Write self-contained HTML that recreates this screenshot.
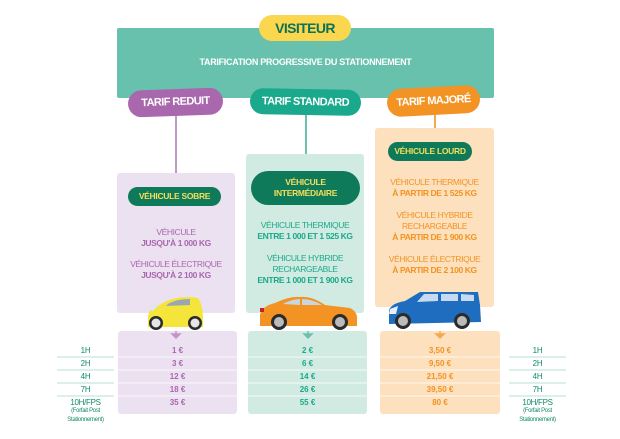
<!DOCTYPE html>
<html><head><meta charset="utf-8"><style>
*{margin:0;padding:0;box-sizing:border-box}
body{width:620px;height:439px;background:#fff;position:relative;overflow:hidden;font-family:"Liberation Sans Narrow","Liberation Sans",sans-serif;font-weight:bold}
.a{position:absolute}
.c{text-align:center}
.pill{position:absolute;border-radius:14px;color:#fff;text-align:center;font-weight:bold;letter-spacing:-0.6px;white-space:nowrap}
.t{position:absolute;text-align:center;font-size:8.5px;line-height:11px;letter-spacing:-0.4px;white-space:nowrap}
.row{position:absolute;left:0;width:100%;text-align:center;font-size:8px;height:13px;line-height:13px}
.lbl{position:absolute;width:57px;text-align:center;font-size:8px;color:#138a6a;font-weight:normal;letter-spacing:-0.3px}
</style></head><body>
<div class="a" style="left:117px;top:28px;width:377px;height:70px;background:#67c1ad;border-radius:2px"></div>
<div class="a c" style="left:117px;top:57px;width:377px;color:#fff;font-size:9px;letter-spacing:-0.3px">TARIFICATION PROGRESSIVE DU STATIONNEMENT</div>
<div class="pill" style="left:259px;top:15px;width:92px;height:26px;background:#fad74f;color:#0e7256;font-size:14px;line-height:26px">VISITEUR</div>

<div class="a" style="left:175px;top:112px;width:2px;height:62px;background:#c495c8"></div>
<div class="a" style="left:305px;top:112px;width:2px;height:43px;background:#6cc0ae"></div>
<div class="a" style="left:434px;top:112px;width:2px;height:17px;background:#f6a94d"></div>

<div class="pill" style="left:128px;top:89px;width:95px;height:27px;background:#a968ad;font-size:11px;line-height:27px;transform:rotate(-2deg)">TARIF REDUIT</div>
<div class="pill" style="left:250px;top:89px;width:111px;height:26px;background:#1aa98c;font-size:11px;line-height:26px;transform:rotate(1deg)">TARIF STANDARD</div>
<div class="pill" style="left:387px;top:87px;width:93px;height:28px;background:#f29323;font-size:11px;line-height:28px;transform:rotate(-3deg)">TARIF MAJORÉ</div>

<div class="a" style="left:117px;top:173px;width:118px;height:140px;background:#ece1f1;border-radius:3px"></div>
<div class="a" style="left:246px;top:154px;width:118px;height:159px;background:#d2ebe2;border-radius:3px"></div>
<div class="a" style="left:375px;top:128px;width:119px;height:179px;background:#fde0be;border-radius:3px"></div>

<div class="pill" style="left:128px;top:187px;width:93px;height:19px;background:#0e7a5a;color:#f5df5c;font-size:8.5px;line-height:19px;border-radius:10px;letter-spacing:-0.3px">VÉHICULE SOBRE</div>
<div class="pill" style="left:251px;top:171px;width:109px;height:34px;background:#0e7a5a;color:#f5df5c;font-size:8.5px;line-height:11px;padding-top:6px;border-radius:17px;letter-spacing:-0.3px">VÉHICULE<br>INTERMÉDIAIRE</div>
<div class="pill" style="left:388px;top:142px;width:84px;height:19px;background:#0e7a5a;color:#f5df5c;font-size:8.5px;line-height:19px;border-radius:10px;letter-spacing:-0.3px">VÉHICULE LOURD</div>

<div class="t" style="left:117px;top:227px;width:118px;color:#a968ad"><span style="font-weight:normal">VÉHICULE</span><br>JUSQU'À 1 000 KG</div>
<div class="t" style="left:117px;top:259px;width:118px;color:#a968ad"><span style="font-weight:normal">VÉHICULE ÉLECTRIQUE</span><br>JUSQU'À 2 100 KG</div>
<div class="t" style="left:246px;top:220px;width:118px;color:#1aa98c"><span style="font-weight:normal">VÉHICULE THERMIQUE</span><br>ENTRE 1 000 ET 1 525 KG</div>
<div class="t" style="left:246px;top:253px;width:118px;color:#1aa98c"><span style="font-weight:normal">VÉHICULE HYBRIDE<br>RECHARGEABLE</span><br>ENTRE 1 000 ET 1 900 KG</div>
<div class="t" style="left:375px;top:177px;width:119px;color:#f29323"><span style="font-weight:normal">VÉHICULE THERMIQUE</span><br>À PARTIR DE 1 525 KG</div>
<div class="t" style="left:375px;top:210px;width:119px;color:#f29323"><span style="font-weight:normal">VÉHICULE HYBRIDE<br>RECHARGEABLE</span><br>À PARTIR DE 1 900 KG</div>
<div class="t" style="left:375px;top:254px;width:119px;color:#f29323"><span style="font-weight:normal">VÉHICULE ÉLECTRIQUE</span><br>À PARTIR DE 2 100 KG</div>

<svg class="a" style="left:0;top:0" width="620" height="439">
<path d="M148 318 Q148 308 160 305 Q170 297 190 297 L198 298 Q203 305 203 320 L203 327 L148 327 Z" fill="#f5e43a"/>
<path d="M168 304 Q176 299 190 299 L190 305 L166 306 Z" fill="#9aa7b3"/>
<path d="M150 306 L160 304 L152 312 Z" fill="#dfe6ec"/>
<circle cx="156" cy="323" r="7" fill="#2b2b2b"/><circle cx="156" cy="323" r="4.5" fill="#e6e6e6"/>
<circle cx="195" cy="323" r="7" fill="#2b2b2b"/><circle cx="195" cy="323" r="4.5" fill="#e6e6e6"/>
<path d="M260 315 Q262 306 275 303 Q290 296 300 297 Q312 296 325 305 L350 308 Q358 312 357 320 L357 326 L260 326 Z" fill="#f29323"/>
<path d="M283 304 Q292 299 300 299 L300 305 Z M302 299 Q312 299 322 305 L302 305 Z" fill="#c8d6e0"/>
<rect x="260" y="308" width="4" height="4" fill="#c8202a"/>
<circle cx="279" cy="322" r="8" fill="#2b2b2b"/><circle cx="279" cy="322" r="5" fill="#bbb"/>
<circle cx="340" cy="322" r="8" fill="#2b2b2b"/><circle cx="340" cy="322" r="5" fill="#bbb"/>
<path d="M389 310 Q392 303 405 301 L420 292 L478 292 L480 305 L481 322 L389 324 Z" fill="#1f6dbf"/>
<path d="M424 294 L438 294 L438 301 L417 302 Z M441 294 L458 294 L458 301 L441 301 Z M461 294 L474 295 L474 301 L461 301 Z" fill="#c8daf0"/>
<path d="M390 309 L398 306 L396 314 L389 314 Z" fill="#e8eef5"/>
<circle cx="403" cy="321" r="8" fill="#2b2b2b"/><circle cx="403" cy="321" r="5" fill="#bbb"/>
<circle cx="462" cy="321" r="8" fill="#2b2b2b"/><circle cx="462" cy="321" r="5" fill="#bbb"/>
</svg>

<div class="a" style="left:118px;top:331px;width:119px;height:83px;background:#ece1f1;border-radius:3px"></div>
<div class="a" style="left:248px;top:331px;width:119px;height:83px;background:#d2ebe2;border-radius:3px"></div>
<div class="a" style="left:380px;top:331px;width:120px;height:83px;background:#fde0be;border-radius:3px"></div>

<svg class="a" style="left:0;top:0" width="620" height="439">
<path d="M176 331 L176 336 M172 334 L176 338 L180 334 Z" stroke="#c495c8" fill="#c495c8" stroke-width="1.5"/>
<path d="M308 331 L308 336 M304 334 L308 338 L312 334 Z" stroke="#6cc0ae" fill="#6cc0ae" stroke-width="1.5"/>
<path d="M440 331 L440 336 M436 334 L440 338 L444 334 Z" stroke="#f6a94d" fill="#f6a94d" stroke-width="1.5"/>
<g stroke="#ffffff" stroke-width="0.8">
<line x1="118" y1="357" x2="237" y2="357"/><line x1="118" y1="370" x2="237" y2="370"/><line x1="118" y1="383" x2="237" y2="383"/><line x1="118" y1="396" x2="237" y2="396"/>
<line x1="248" y1="357" x2="367" y2="357"/><line x1="248" y1="370" x2="367" y2="370"/><line x1="248" y1="383" x2="367" y2="383"/><line x1="248" y1="396" x2="367" y2="396"/>
<line x1="380" y1="357" x2="500" y2="357"/><line x1="380" y1="370" x2="500" y2="370"/><line x1="380" y1="383" x2="500" y2="383"/><line x1="380" y1="396" x2="500" y2="396"/>
</g>
<g stroke="#9fd9c8" stroke-width="0.8">
<line x1="57" y1="357" x2="114" y2="357"/><line x1="57" y1="370" x2="114" y2="370"/><line x1="57" y1="383" x2="114" y2="383"/><line x1="57" y1="396" x2="114" y2="396"/>
<line x1="509" y1="357" x2="566" y2="357"/><line x1="509" y1="370" x2="566" y2="370"/><line x1="509" y1="383" x2="566" y2="383"/><line x1="509" y1="396" x2="566" y2="396"/>
</g>
</svg>

<div class="a" style="left:118px;top:344px;width:119px;height:70px;color:#a968ad">
<div class="row" style="top:0">1 €</div><div class="row" style="top:13px">3 €</div><div class="row" style="top:26px">12 €</div><div class="row" style="top:39px">18 €</div><div class="row" style="top:52px">35 €</div></div>
<div class="a" style="left:248px;top:344px;width:119px;height:70px;color:#1aa98c">
<div class="row" style="top:0">2 €</div><div class="row" style="top:13px">6 €</div><div class="row" style="top:26px">14 €</div><div class="row" style="top:39px">26 €</div><div class="row" style="top:52px">55 €</div></div>
<div class="a" style="left:380px;top:344px;width:120px;height:70px;color:#f29323">
<div class="row" style="top:0">3,50 €</div><div class="row" style="top:13px">9,50 €</div><div class="row" style="top:26px">21,50 €</div><div class="row" style="top:39px">39,50 €</div><div class="row" style="top:52px">80 €</div></div>

<div class="lbl" style="left:57px;top:346px">1H</div><div class="lbl" style="left:57px;top:359px">2H</div><div class="lbl" style="left:57px;top:372px">4H</div><div class="lbl" style="left:57px;top:385px">7H</div>
<div class="lbl" style="left:55px;top:398px;width:61px">10H/FPS<div style="font-size:6px;line-height:9px">(Forfait Post<br>Stationnement)</div></div>
<div class="lbl" style="left:509px;top:346px">1H</div><div class="lbl" style="left:509px;top:359px">2H</div><div class="lbl" style="left:509px;top:372px">4H</div><div class="lbl" style="left:509px;top:385px">7H</div>
<div class="lbl" style="left:507px;top:398px;width:61px">10H/FPS<div style="font-size:6px;line-height:9px">(Forfait Post<br>Stationnement)</div></div>
</body></html>
